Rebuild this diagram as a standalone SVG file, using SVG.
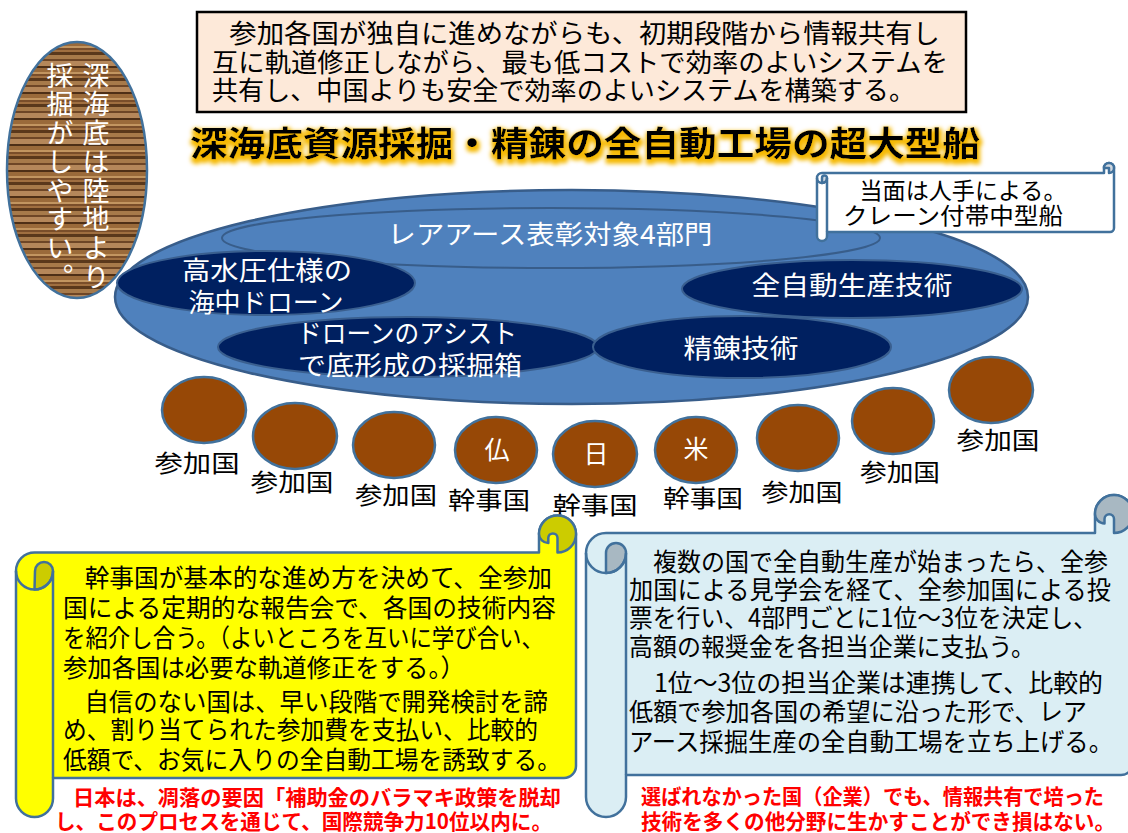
<svg xmlns="http://www.w3.org/2000/svg" width="1128" height="833" viewBox="0 0 1128 833">
<style>
text{font-family:"Noto Sans CJK JP","Noto Sans CJK SC",sans-serif}
.dk{fill:#000;font-size:26px}
.wt{fill:#fff;font-size:26px}
.lb{fill:#000;font-size:24px}
.bd{fill:#000;font-size:25px}
.rd{fill:#ff0000;font-size:21px;font-weight:bold}
.cir{fill:#974806;stroke:#41719c;stroke-width:2.5}
.dark{fill:#002060;stroke:#3a5f8f;stroke-width:2}
.scr{stroke:#41719c;stroke-width:2.5;stroke-linejoin:round}
.ln{fill:none;stroke:#41719c;stroke-width:2.5}
</style>
<defs>
<pattern id="wood" patternUnits="userSpaceOnUse" width="140" height="26">
<rect width="140" height="26" fill="#8c5d30"/>
<rect y="0" width="140" height="3" fill="#5a381b"/>
<rect y="3" width="140" height="4" fill="#a77a4a"/>
<rect y="7" width="140" height="2" fill="#6e4626"/>
<rect y="9" width="140" height="5" fill="#b5875a"/>
<rect y="14" width="140" height="2" fill="#4e2f16"/>
<rect y="16" width="140" height="4" fill="#9a6a3a"/>
<rect y="20" width="140" height="2" fill="#c29560"/>
<rect y="22" width="140" height="2" fill="#7a4e2a"/>
<rect y="24" width="140" height="2" fill="#a06f40"/>
</pattern>
<filter id="glow" x="-5%" y="-40%" width="110%" height="180%">
<feMorphology in="SourceAlpha" operator="dilate" radius="2" result="d"/>
<feOffset in="d" dx="1" dy="3" result="o"/>
<feGaussianBlur in="o" stdDeviation="2" result="b"/>
<feFlood flood-color="#f5b800"/>
<feComposite in2="b" operator="in" result="g"/>
<feMerge><feMergeNode in="g"/><feMergeNode in="SourceGraphic"/></feMerge>
</filter>
</defs>
<rect width="1128" height="833" fill="#fff"/>

<g id="top-box">
<rect x="197" y="12" width="769" height="100" fill="#fde9d9" stroke="#000" stroke-width="2.5"/>
<text class="dk" x="202" y="43" textLength="738" lengthAdjust="spacingAndGlyphs">　参加各国が独自に進めながらも、初期段階から情報共有し</text>
<text class="dk" x="212" y="72" textLength="736" lengthAdjust="spacingAndGlyphs">互に軌道修正しながら、最も低コストで効率のよいシステムを</text>
<text class="dk" x="212" y="100" textLength="703" lengthAdjust="spacingAndGlyphs">共有し、中国よりも安全で効率のよいシステムを構築する。</text>
</g>

<g id="title">
<text x="190" y="156" font-size="34" font-weight="bold" fill="#000" filter="url(#glow)" textLength="790" lengthAdjust="spacingAndGlyphs">深海底資源採掘・精錬の全自動工場の超大型船</text>
</g>

<g id="ship">
<ellipse cx="571.5" cy="297" rx="456.5" ry="107" fill="#4f81bd" stroke="#385d8a" stroke-width="2.5"/>
<g id="rare-earth-award">
<ellipse cx="551" cy="238" rx="329" ry="30" fill="#4f81bd" stroke="#385d8a" stroke-width="2"/>
<text class="wt" x="550" y="244" text-anchor="middle" textLength="325" lengthAdjust="spacingAndGlyphs">レアアース表彰対象4部門</text>
</g>
<g id="drone">
<ellipse class="dark" cx="266" cy="283" rx="149" ry="32"/>
<text class="wt" x="267" y="280" text-anchor="middle" textLength="170" lengthAdjust="spacingAndGlyphs">高水圧仕様の</text>
<text class="wt" x="266" y="312" text-anchor="middle" textLength="155" lengthAdjust="spacingAndGlyphs">海中ドローン</text>
</g>
<g id="auto-production">
<ellipse class="dark" cx="852" cy="289" rx="170" ry="29"/>
<text class="wt" x="852" y="295" text-anchor="middle" textLength="201" lengthAdjust="spacingAndGlyphs">全自動生産技術</text>
</g>
<g id="mining-box">
<ellipse class="dark" cx="408" cy="347" rx="190" ry="30"/>
<text class="wt" x="407" y="343" text-anchor="middle" textLength="220" lengthAdjust="spacingAndGlyphs">ドローンのアシスト</text>
<text class="wt" x="410" y="375" text-anchor="middle" textLength="224" lengthAdjust="spacingAndGlyphs">で底形成の採掘箱</text>
</g>
<g id="refining">
<ellipse class="dark" cx="742" cy="347" rx="149" ry="31"/>
<text class="wt" x="741" y="358" text-anchor="middle" textLength="115" lengthAdjust="spacingAndGlyphs">精錬技術</text>
</g>
</g>

<g id="callout">
<path class="scr" fill="#fff" d="M817 178 A5 5 0 0 1 822 173 L1104 173 L1104 168 A5 5 0 0 1 1114 168 L1114 228 A4 4 0 0 1 1110 232 L827 232 L827 236 A5 5 0 0 1 817 236 Z"/>
<path class="scr" fill="#d0d8e0" d="M822 178 A2.5 2.5 0 0 1 827 178 A5 5 0 0 1 822 183 Z"/>
<path class="scr" fill="#d0d8e0" d="M1104 168 A5 5 0 0 1 1114 168 A5 5 0 0 1 1109 173 L1109 168 Z"/>
<path class="ln" d="M817 178 A5 5 0 0 0 827 178 L827 232"/>
<text x="963" y="199" font-size="23" fill="#000" text-anchor="middle" textLength="207" lengthAdjust="spacingAndGlyphs">当面は人手による。</text>
<text x="953" y="224" font-size="23" fill="#000" text-anchor="middle" textLength="220" lengthAdjust="spacingAndGlyphs">クレーン付帯中型船</text>
</g>

<g id="seabed-oval">
<ellipse cx="77" cy="170" rx="70" ry="128" fill="url(#wood)" stroke="#41719c" stroke-width="2.5"/>
<text x="96" y="62" font-size="27" fill="#fff" style="writing-mode:vertical-rl" textLength="228" lengthAdjust="spacing">深海底は陸地より</text>
<text x="60" y="62" font-size="27" fill="#fff" style="writing-mode:vertical-rl" textLength="228" lengthAdjust="spacing">採掘がしやすい。</text>
</g>

<g id="countries">
<g id="c1"><ellipse class="cir" cx="204" cy="410" rx="42" ry="33"/><text class="lb" x="197" y="472" text-anchor="middle" textLength="85" lengthAdjust="spacingAndGlyphs">参加国</text></g>
<g id="c2"><ellipse class="cir" cx="295" cy="436" rx="42" ry="33"/><text class="lb" x="292" y="491" text-anchor="middle" textLength="83" lengthAdjust="spacingAndGlyphs">参加国</text></g>
<g id="c3"><ellipse class="cir" cx="394" cy="445" rx="41" ry="33"/><text class="lb" x="396" y="504" text-anchor="middle" textLength="82" lengthAdjust="spacingAndGlyphs">参加国</text></g>
<g id="c4"><ellipse class="cir" cx="496" cy="450" rx="41" ry="33"/><text x="497" y="459" font-size="25" fill="#fff" text-anchor="middle">仏</text><text class="lb" x="489" y="509" text-anchor="middle" textLength="82" lengthAdjust="spacingAndGlyphs">幹事国</text></g>
<g id="c5"><ellipse class="cir" cx="595" cy="454" rx="42" ry="33"/><text x="596" y="463" font-size="25" fill="#fff" text-anchor="middle">日</text><text class="lb" x="595" y="514" text-anchor="middle" textLength="85" lengthAdjust="spacingAndGlyphs">幹事国</text></g>
<g id="c6"><ellipse class="cir" cx="696" cy="450" rx="41" ry="33"/><text x="696" y="458" font-size="25" fill="#fff" text-anchor="middle">米</text><text class="lb" x="703" y="507" text-anchor="middle" textLength="80" lengthAdjust="spacingAndGlyphs">幹事国</text></g>
<g id="c7"><ellipse class="cir" cx="798" cy="438" rx="41" ry="33"/><text class="lb" x="802" y="501" text-anchor="middle" textLength="81" lengthAdjust="spacingAndGlyphs">参加国</text></g>
<g id="c8"><ellipse class="cir" cx="893" cy="421" rx="41" ry="33"/><text class="lb" x="900" y="481" text-anchor="middle" textLength="80" lengthAdjust="spacingAndGlyphs">参加国</text></g>
<g id="c9"><ellipse class="cir" cx="991" cy="390" rx="42" ry="33"/><text class="lb" x="998" y="449" text-anchor="middle" textLength="83" lengthAdjust="spacingAndGlyphs">参加国</text></g>
</g>

<g id="yellow-scroll">
<path class="scr" fill="#ffff00" d="M16 571 A18.5 18.5 0 0 1 34.5 552.5 L539 552.5 L539 534 A18.5 18.5 0 0 1 576 534 L576 766 A12 12 0 0 1 564 778 L53 778 L53 798.5 A18.5 18.5 0 0 1 16 798.5 Z"/>
<path class="scr" fill="#cccc00" d="M35 571 A9 9 0 0 1 53 571 A18.5 18.5 0 0 1 34.5 589.5 Z"/>
<path class="scr" fill="#cccc00" d="M539 534 A18.5 18.5 0 0 1 576 534 A18.5 18.5 0 0 1 557.5 552.5 L557.5 538 A4.6 4.6 0 0 0 548.3 538 L548.3 543 A9.25 9.25 0 0 1 539 534 Z"/>
<path class="ln" d="M16 571 A18.5 18.5 0 0 0 53 571 L53 778"/>
<text class="bd" x="60" y="587" textLength="492" lengthAdjust="spacingAndGlyphs">　幹事国が基本的な進め方を決めて、全参加</text>
<text class="bd" x="63" y="617" textLength="493" lengthAdjust="spacingAndGlyphs">国による定期的な報告会で、各国の技術内容</text>
<text class="bd" x="63" y="647" textLength="481" lengthAdjust="spacingAndGlyphs">を紹介し合う。（よいところを互いに学び合い、</text>
<text class="bd" x="63" y="677" textLength="402" lengthAdjust="spacingAndGlyphs">参加各国は必要な軌道修正をする。）</text>
<text class="bd" x="60" y="711" textLength="488" lengthAdjust="spacingAndGlyphs">　自信のない国は、早い段階で開発検討を諦</text>
<text class="bd" x="63" y="739" textLength="475" lengthAdjust="spacingAndGlyphs">め、割り当てられた参加費を支払い、比較的</text>
<text class="bd" x="63" y="769" textLength="498" lengthAdjust="spacingAndGlyphs">低額で、お気に入りの全自動工場を誘致する。</text>
<text class="rd" x="73" y="805" textLength="488" lengthAdjust="spacingAndGlyphs">日本は、凋落の要因「補助金のバラマキ政策を脱却</text>
<text class="rd" x="55" y="829" textLength="497" lengthAdjust="spacingAndGlyphs">し、このプロセスを通じて、国際競争力10位以内に。</text>
</g>

<g id="blue-scroll">
<path class="scr" fill="#dbeef4" d="M586 553 A20 20 0 0 1 606 533 L1095 533 L1095 514 A19 19 0 0 1 1133 514 L1133 763 A12 12 0 0 1 1121 775 L626 775 L626 797 A20 20 0 0 1 586 797 Z"/>
<path class="scr" fill="#a8b8c2" d="M606 553 A10 10 0 0 1 626 553 A20 20 0 0 1 606 573 Z"/>
<path class="scr" fill="#a8b8c2" d="M1095 514 A19 19 0 0 1 1133 514 A19 19 0 0 1 1114 533 L1114 519 A4.75 4.75 0 0 0 1104.5 519 L1104.5 523.5 A9.5 9.5 0 0 1 1095 514 Z"/>
<path class="ln" d="M586 553 A20 20 0 0 0 626 553 L626 775"/>
<text class="bd" x="629" y="571" textLength="479" lengthAdjust="spacingAndGlyphs">　複数の国で全自動生産が始まったら、全参</text>
<text class="bd" x="629" y="599" textLength="482" lengthAdjust="spacingAndGlyphs">加国による見学会を経て、全参加国による投</text>
<text class="bd" x="629" y="627" textLength="468" lengthAdjust="spacingAndGlyphs">票を行い、4部門ごとに1位～3位を決定し、</text>
<text class="bd" x="629" y="656" textLength="406" lengthAdjust="spacingAndGlyphs">高額の報奨金を各担当企業に支払う。</text>
<text class="bd" x="629" y="692" textLength="474" lengthAdjust="spacingAndGlyphs">　1位～3位の担当企業は連携して、比較的</text>
<text class="bd" x="629" y="721" textLength="458" lengthAdjust="spacingAndGlyphs">低額で参加各国の希望に沿った形で、レア</text>
<text class="bd" x="629" y="751" textLength="484" lengthAdjust="spacingAndGlyphs">アース採掘生産の全自動工場を立ち上げる。</text>
<text class="rd" x="641" y="804" textLength="463" lengthAdjust="spacingAndGlyphs">選ばれなかった国（企業）でも、情報共有で培った</text>
<text class="rd" x="641" y="829" textLength="474" lengthAdjust="spacingAndGlyphs">技術を多くの他分野に生かすことができ損はない。</text>
</g>
</svg>
